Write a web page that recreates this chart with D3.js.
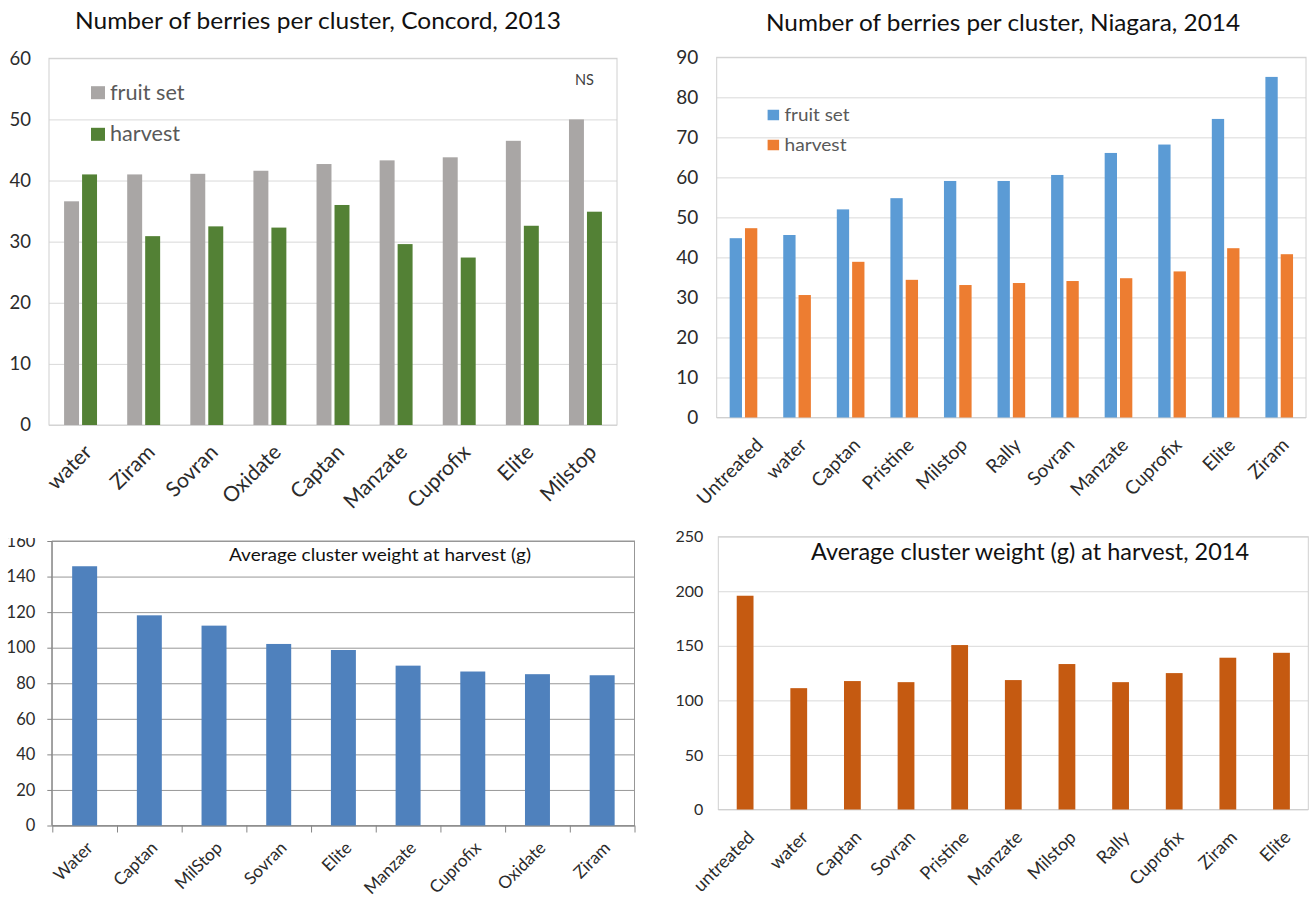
<!DOCTYPE html>
<html>
<head>
<meta charset="utf-8">
<script src="https://cdn.jsdelivr.net/npm/d3@7"></script>
<style>
  html, body { margin: 0; padding: 0; background: #fff; }
  svg { display: block; }
</style>
</head>
<body>
<script>
// ---------------- DATA ----------------
const concordCategories = ["water", "Ziram", "Sovran", "Oxidate", "Captan", "Manzate", "Cuprofix", "Elite", "Milstop"];
const concordFruitSet   = [36.6, 41.0, 41.1, 41.6, 42.7, 43.3, 43.8, 46.5, 50.0];
const concordHarvest    = [41.0, 30.9, 32.5, 32.3, 36.0, 29.6, 27.4, 32.6, 34.9];
const concordTicks      = [0, 10, 20, 30, 40, 50, 60];

const niagaraCategories = ["Untreated", "water", "Captan", "Pristine", "Milstop", "Rally", "Sovran", "Manzate", "Cuprofix", "Elite", "Ziram"];
const niagaraFruitSet   = [44.8, 45.6, 52.0, 54.8, 59.1, 59.1, 60.6, 66.1, 68.2, 74.6, 85.1];
const niagaraHarvest    = [47.3, 30.6, 38.9, 34.4, 33.1, 33.6, 34.1, 34.8, 36.5, 42.3, 40.8];
const niagaraTicks      = [0, 10, 20, 30, 40, 50, 60, 70, 80, 90];

const weight2013Categories = ["Water", "Captan", "MilStop", "Sovran", "Elite", "Manzate", "Cuprofix", "Oxidate", "Ziram"];
const weight2013Values     = [145.8, 118.2, 112.4, 102.1, 98.7, 89.9, 86.6, 85.1, 84.5];
const weight2013Ticks      = [0, 20, 40, 60, 80, 100, 120, 140, 160];

const weight2014Categories = ["untreated", "water", "Captan", "Sovran", "Pristine", "Manzate", "Milstop", "Rally", "Cuprofix", "Ziram", "Elite"];
const weight2014Values     = [195.9, 111.2, 117.7, 116.7, 150.7, 118.6, 133.3, 116.7, 125.0, 139.1, 143.6];
const weight2014Ticks      = [0, 50, 100, 150, 200, 250];

const seriesNames = ["fruit set", "harvest"];

// ---------------- DRAW ----------------
const FONT = "Lato, 'Open Sans', sans-serif";
const svg = d3.select("body").append("svg").attr("width", 1313).attr("height", 897);
svg.append("rect").attr("width", 1313).attr("height", 897).attr("fill", "#fff");

const defs = svg.append("defs");

function panel(o) {
  const g = svg.append("g");
  const x = d3.scaleBand().domain(o.cats).range([o.left, o.right]).padding(0);
  const y = d3.scaleLinear().domain([0, d3.max(o.ticks)]).range([o.bottom, o.top]);
  const w = o.right - o.left;

  // gridlines
  const grid = g.append("g").attr("transform", `translate(${o.left},0)`)
    .call(d3.axisLeft(y).tickValues(o.ticks).tickSize(-w).tickFormat(""));
  grid.select(".domain").remove();
  grid.selectAll(".tick line").attr("stroke", o.gridColor).attr("stroke-width", 1);

  // frame
  if (o.frame) {
    g.append("rect").attr("x", o.left).attr("y", o.top).attr("width", w).attr("height", o.bottom - o.top)
      .attr("fill", "none").attr("stroke", o.frameColor).attr("stroke-width", 1);
  }

  // y labels
  let labG = g.append("g");
  if (o.clipTop != null) {
    const id = "clip" + Math.round(o.left);
    defs.append("clipPath").attr("id", id).append("rect")
      .attr("x", 0).attr("y", o.clipTop).attr("width", 1313).attr("height", 897);
    labG.attr("clip-path", `url(#${id})`);
  }
  const yl = labG.append("g").attr("transform", `translate(${o.left},0)`)
    .call(d3.axisLeft(y).tickValues(o.ticks).tickSize(o.yTickLen || 0).tickPadding(o.tickGap - (o.yTickLen || 0)).tickFormat(d3.format("d")));
  yl.attr("font-family", FONT).attr("font-size", o.tickFont);
  yl.selectAll(".tick text").attr("fill", o.tickColor);
  if (o.yAxisLine) {
    yl.select(".domain").attr("stroke", o.yAxisLine).attr("d", `M-0.5,${o.top}V${o.bottom}`);
    yl.selectAll(".tick line").attr("stroke", o.yAxisLine);
  } else {
    yl.select(".domain").remove();
    yl.selectAll(".tick line").remove();
  }

  // x axis with boundary ticks (panel 3 style)
  if (o.xTicks) {
    const xb = d3.scaleLinear().domain([0, o.cats.length]).range([o.left, o.right]);
    const xa = g.append("g").attr("transform", `translate(0,${o.bottom})`)
      .call(d3.axisBottom(xb).tickValues(d3.range(o.cats.length + 1)).tickSize(o.xTicks).tickSizeOuter(0).tickFormat(""));
    xa.select(".domain").attr("stroke", o.yAxisLine);
    xa.selectAll(".tick line").attr("stroke", o.yAxisLine);
  }

  // bars
  const bw = x.bandwidth();
  const n = o.series.length;
  const barW = bw * o.barFrac, gap = bw * (o.gapFrac || 0);
  const total = n * barW + (n - 1) * gap;
  o.series.forEach((s, i) => {
    g.append("g").selectAll("rect").data(o.cats).join("rect")
      .attr("x", c => x(c) + (bw - total) / 2 + i * (barW + gap))
      .attr("width", barW)
      .attr("y", (c, k) => y(s.values[k]))
      .attr("height", (c, k) => y(0) - y(s.values[k]))
      .attr("fill", s.color);
  });

  // x labels, rotated -45
  const xl = g.append("g").attr("font-family", FONT).attr("font-size", o.labelFont).attr("fill", o.tickColor);
  xl.selectAll("text").data(o.cats).join("text")
    .attr("text-anchor", "end")
    .text(d => d)
    .each(function (d) {
      const t = d3.select(this);
      let ax = x(d) + bw / 2 + o.labelDX;
      const ay = o.bottom + o.labelDY;
      const L = this.getComputedTextLength();
      const leftMost = ax - 0.707 * (L + o.labelFont * 0.72);
      if (o.minLabelX != null && leftMost < o.minLabelX) ax += o.minLabelX - leftMost;
      t.attr("x", ax).attr("y", ay).attr("transform", `rotate(-45,${ax},${ay})`);
    });

  return { x, y, g };
}

function title(txt, cx, baseline, size, len, color) {
  svg.append("text").attr("x", cx).attr("y", baseline).attr("text-anchor", "middle")
    .attr("font-family", FONT).attr("font-size", size).attr("fill", color || "#111")
    .attr("textLength", len).attr("lengthAdjust", "spacingAndGlyphs").text(txt);
}

function legend(items, x0, ys, sq, textX, size, lens, color) {
  items.forEach((it, i) => {
    svg.append("rect").attr("x", x0).attr("y", ys[i] - sq[1] / 2).attr("width", sq[0]).attr("height", sq[1]).attr("fill", it.color);
    svg.append("text").attr("x", textX).attr("y", ys[i]).attr("dy", "0.35em")
      .attr("font-family", FONT).attr("font-size", size).attr("fill", color)
      .attr("textLength", lens[i]).attr("lengthAdjust", "spacingAndGlyphs").text(it.name);
  });
}

// ---- Panel 1: Concord 2013 ----
panel({
  cats: concordCategories, ticks: concordTicks,
  left: 49, right: 617, top: 58.3, bottom: 425,
  series: [{ values: concordFruitSet, color: "#a9a6a5" }, { values: concordHarvest, color: "#538135" }],
  barFrac: 0.237, gapFrac: 0.048,
  gridColor: "#d9d9d9", frame: true, frameColor: "#d0d0d0",
  tickFont: 18.5, tickGap: 18, tickColor: "#2b2b2b",
  labelFont: 21, labelDX: 12.5, labelDY: 28.5
});
title("Number of berries per cluster, Concord, 2013", 318, 28.5, 22.5, 486);
legend([{ name: seriesNames[0], color: "#a9a6a5" }, { name: seriesNames[1], color: "#538135" }],
  91, [92.7, 134.3], [14, 13], 110, 20.5, [74.5, 70], "#595959");
svg.append("text").attr("x", 575).attr("y", 80).attr("dy", "0.35em")
  .attr("font-family", FONT).attr("font-size", 14.5).attr("fill", "#404040").text("NS");

// ---- Panel 2: Niagara 2014 ----
panel({
  cats: niagaraCategories, ticks: niagaraTicks,
  left: 716.7, right: 1306, top: 57.3, bottom: 417.5,
  series: [{ values: niagaraFruitSet, color: "#5b9bd5" }, { values: niagaraHarvest, color: "#ed7d31" }],
  barFrac: 0.23, gapFrac: 0.056,
  gridColor: "#d9d9d9", frame: true, frameColor: "#d0d0d0",
  tickFont: 19, tickGap: 18.5, tickColor: "#2b2b2b",
  labelFont: 19, labelDX: 10.8, labelDY: 28.8, minLabelX: 695
});
title("Number of berries per cluster, Niagara,  2014", 1003, 31, 23, 474);
legend([{ name: seriesNames[0], color: "#5b9bd5" }, { name: seriesNames[1], color: "#ed7d31" }],
  767.6, [115, 145], [11.5, 10.5], 784.5, 18, [65, 62], "#595959");

// ---- Panel 3: Average cluster weight 2013 ----
panel({
  cats: weight2013Categories, ticks: weight2013Ticks,
  left: 52.3, right: 634.5, top: 541, bottom: 825.5,
  series: [{ values: weight2013Values, color: "#4f81bd" }],
  barFrac: 0.386,
  gridColor: "#979797", frame: true, frameColor: "#979797",
  tickFont: 16.5, tickGap: 17, tickColor: "#2b2b2b", yTickLen: 5, yAxisLine: "#868686", xTicks: 7,
  labelFont: 17.2, labelDX: 9.2, labelDY: 23.5, clipTop: 538
});
title("Average cluster weight at harvest (g)", 380, 561, 16.5, 302, "#111");

// ---- Panel 4: Average cluster weight 2014 ----
panel({
  cats: weight2014Categories, ticks: weight2014Ticks,
  left: 718.3, right: 1308.3, top: 536.7, bottom: 809.5,
  series: [{ values: weight2014Values, color: "#c55a11" }],
  barFrac: 0.313,
  gridColor: "#d9d9d9", frame: true, frameColor: "#d0d0d0",
  tickFont: 16, tickGap: 15, tickColor: "#2b2b2b",
  labelFont: 18, labelDX: 10.3, labelDY: 29
});
title("Average cluster weight  (g) at harvest, 2014", 1030, 560, 23, 438, "#111");
</script>
</body>
</html>
